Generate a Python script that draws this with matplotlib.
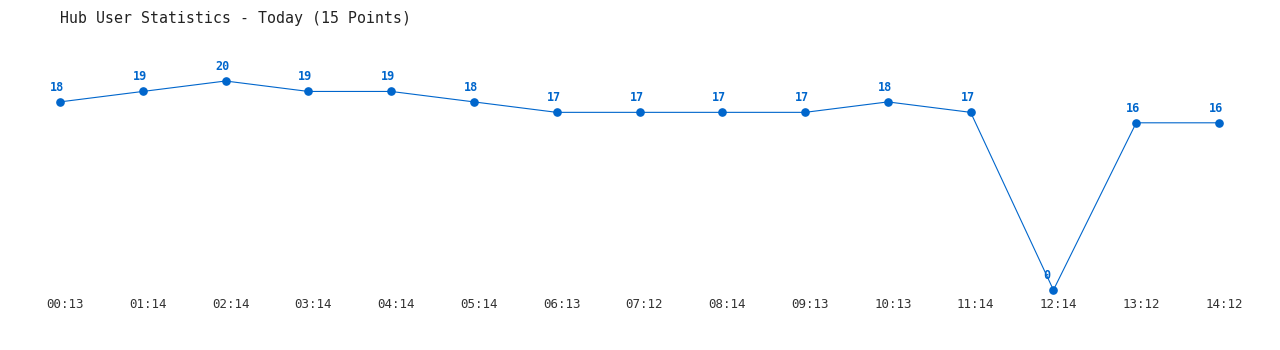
import matplotlib
matplotlib.use("Agg")
import matplotlib.pyplot as plt
import matplotlib.transforms as mtransforms

# hourly samples of connected hub users
times = ["00:13", "01:14", "02:14", "03:14", "04:14", "05:14", "06:13", "07:12",
         "08:14", "09:13", "10:13", "11:14", "12:14", "13:12", "14:12"]
users = [18, 19, 20, 19, 19, 18, 17, 17, 17, 17, 18, 17, 0, 16, 16]

blue = "#0066cc"
mono = ["DejaVu Sans Mono", "Liberation Mono"]

fig = plt.figure(figsize=(12.8, 3.5), dpi=100)
ax = fig.add_axes([60 / 1280, 1 - 290 / 350, (1219 - 60) / 1280, (290 - 81) / 350])

x = list(range(len(users)))
ax.plot(x, users, color=blue, linewidth=0.8, marker="o", markersize=5.2,
        clip_on=False)

# value labels above each point
for xi, v in zip(x, users):
    ax.annotate(str(v), (xi, v), xytext=(-10, 8), textcoords="offset pixels",
                ha="left", va="bottom", color=blue, fontsize=8.5,
                fontweight="bold", family=mono)

ax.set_xlim(0, len(users) - 1)
ax.set_ylim(0, 20)
ax.set_xticks(x)
ax.set_xticklabels(times, family=mono, fontsize=9.0, color="#333333")
ax.tick_params(axis="x", length=0, pad=6)
shift = mtransforms.ScaledTranslation(5 / 100, 0, fig.dpi_scale_trans)
for lbl in ax.get_xticklabels():
    lbl.set_transform(lbl.get_transform() + shift)
ax.set_yticks([])
for s in ax.spines.values():
    s.set_visible(False)

fig.text(60 / 1280, 1 - 18 / 350, "Hub User Statistics - Today (15 Points)",
         family=mono, fontsize=10.7, color="#222222", ha="left", va="center")

fig.savefig("out.png", dpi=100)
